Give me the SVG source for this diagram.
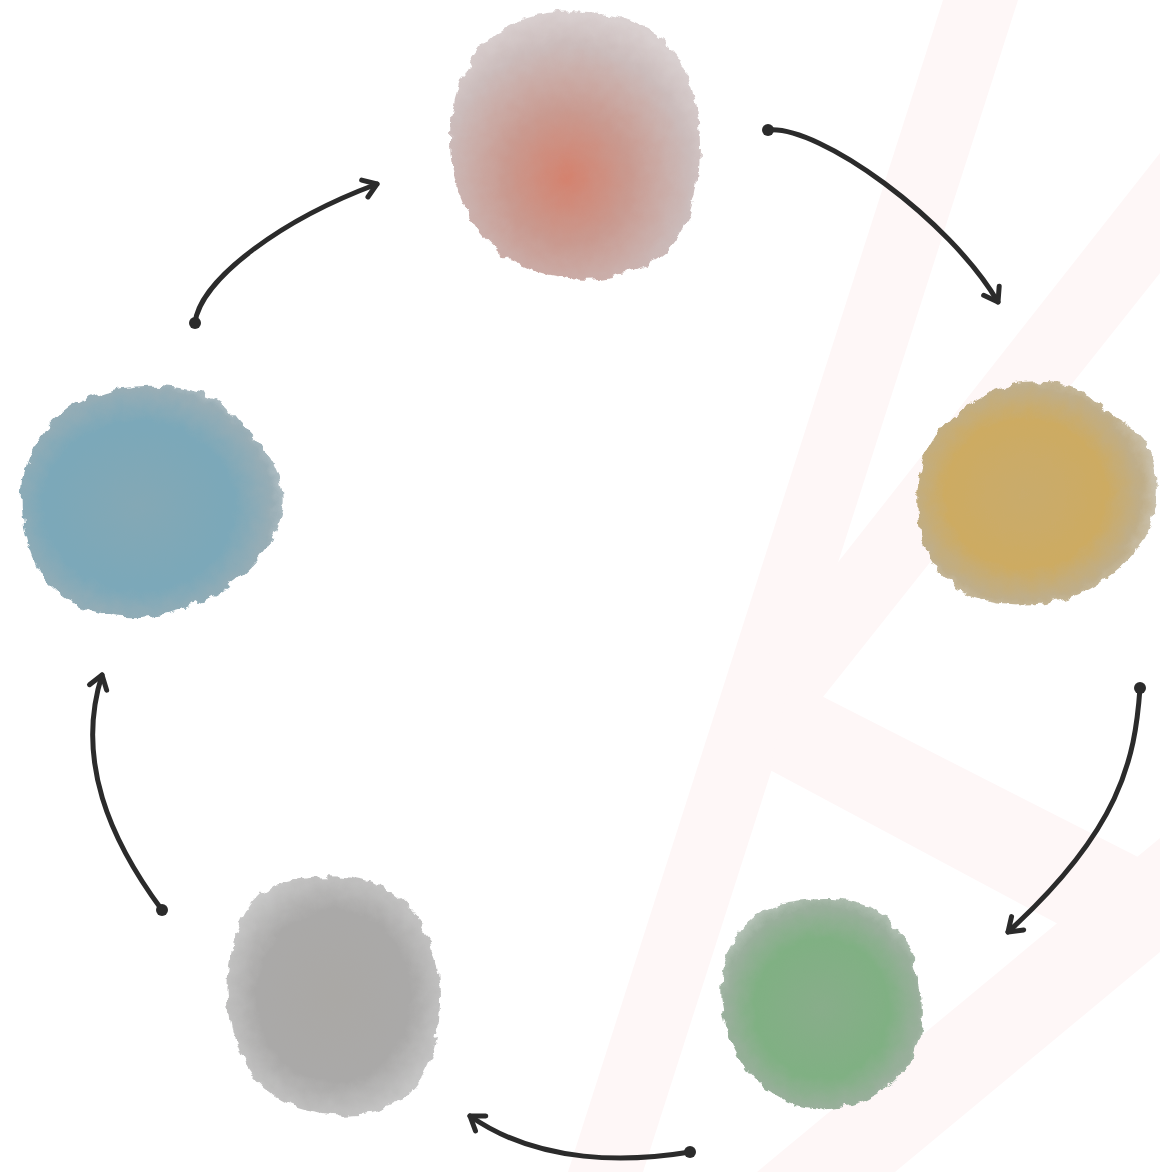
<svg xmlns="http://www.w3.org/2000/svg" width="1160" height="1172" viewBox="0 0 1160 1172">
<style>
.band{fill:#fef7f7;stroke:none}
.blob{filter:url(#rough)}
.conn{fill:none;stroke:#2b2b2b;stroke-width:5;stroke-linecap:round;stroke-linejoin:round;marker-end:url(#arrow)}
.dot{fill:#2b2b2b}
</style>
<defs>
<filter id="rough" x="-10%" y="-10%" width="120%" height="120%">
<feTurbulence type="fractalNoise" baseFrequency="0.08" numOctaves="3" seed="4" result="n"/>
<feDisplacementMap in="SourceGraphic" in2="n" scale="10" xChannelSelector="R" yChannelSelector="G"/>
</filter>
<marker id="arrow" viewBox="-18 -14 22 28" markerWidth="22" markerHeight="28" refX="0" refY="0" orient="auto" markerUnits="userSpaceOnUse">
<path d="M-13,-9 L0,0 L-13,9" fill="none" stroke="#2b2b2b" stroke-width="5" stroke-linecap="round" stroke-linejoin="round"/>
</marker>
<radialGradient id="gRed" cx="0.47" cy="0.62" r="0.62">
<stop offset="0" stop-color="#d4826e"/>
<stop offset="0.4" stop-color="#c99a90"/>
<stop offset="0.8" stop-color="#cbbcbb"/>
<stop offset="1" stop-color="#d9d0d0"/>
</radialGradient>
<radialGradient id="gYel" cx="0.45" cy="0.5" r="0.6">
<stop offset="0" stop-color="#c9ab6c"/>
<stop offset="0.55" stop-color="#cdab62"/>
<stop offset="0.8" stop-color="#bfae8a"/>
<stop offset="1" stop-color="#d3d0c8"/>
</radialGradient>
<radialGradient id="gGrn" cx="0.5" cy="0.52" r="0.6">
<stop offset="0" stop-color="#88ad8a"/>
<stop offset="0.55" stop-color="#80b083"/>
<stop offset="0.8" stop-color="#9aaf9c"/>
<stop offset="1" stop-color="#c9cfca"/>
</radialGradient>
<radialGradient id="gGry" cx="0.5" cy="0.5" r="0.6">
<stop offset="0" stop-color="#aaa8a5"/>
<stop offset="0.6" stop-color="#aaa9a8"/>
<stop offset="1" stop-color="#d0d0d0"/>
</radialGradient>
<radialGradient id="gBlu" cx="0.45" cy="0.52" r="0.6">
<stop offset="0" stop-color="#84a8b5"/>
<stop offset="0.6" stop-color="#7ba8b9"/>
<stop offset="0.85" stop-color="#98adb5"/>
<stop offset="1" stop-color="#c6cdd0"/>
</radialGradient>
</defs>
<rect width="1160" height="1172" fill="#ffffff"/>
<g id="background">
<polygon class="band" points="943,0 1018,0 643,1172 568,1172"/>
<polygon class="band" points="1160,153 1160,273 823,697 780,700 769,650"/>
<polygon class="band" points="790,680 1140,858 1060,925 770,770"/>
<polygon class="band" points="1160,838 1160,952 895,1172 757,1172"/>
</g>
<g id="node-red">
<path class="blob" fill="url(#gRed)" d="M600,13 Q655,20 677.5,56 Q700,90 700,145 Q700,200 682.5,231 Q665,262 622.5,273.5 Q580,285 537.5,271.5 Q495,258 472.5,221.5 Q450,185 450,140 Q450,95 470,62 Q490,30 525,18 Q555,8 600,13 Z"/>
</g>
<g id="node-yellow">
<path class="blob" fill="url(#gYel)" d="M1040,382.5 Q1080,385 1095,400 Q1110,415 1130,427.5 Q1150,440 1156,470 Q1162,500 1148.5,530 Q1135,560 1097.5,584 Q1060,608 1010,604 Q960,600 937.5,570 Q915,540 917.5,490 Q920,440 960,410 Q1000,380 1040,382.5 Z"/>
</g>
<g id="node-green">
<path class="blob" fill="url(#gGrn)" d="M830,899 Q870,900 892.5,922.5 Q915,945 921.5,992.5 Q928,1040 904,1070 Q880,1100 840,1107.5 Q800,1115 770,1092.5 Q740,1070 727.5,1030 Q715,990 727.5,955 Q740,920 765,909 Q790,898 830,899 Z"/>
</g>
<g id="node-gray">
<path class="blob" fill="url(#gGry)" d="M340,877.5 Q390,880 415,915 Q440,950 440,1000 Q440,1050 420,1080 Q400,1110 360,1114 Q320,1118 285,1101.5 Q250,1085 236,1042.5 Q222,1000 231,952.5 Q240,905 265,890 Q290,875 340,877.5 Z"/>
</g>
<g id="node-blue">
<path class="blob" fill="url(#gBlu)" d="M172.5,387 Q215,392 230,411 Q245,430 262.5,447.5 Q280,465 282.5,497.5 Q285,530 252.5,565 Q220,600 170,612.5 Q120,625 77.5,605 Q35,585 25,532.5 Q15,480 35,445 Q55,410 92.5,396 Q130,382 172.5,387 Z"/>
</g>
<g id="connectors">
<path class="conn" d="M768,130 C820,125 950,220 998,302"/>
<circle class="dot" cx="768" cy="130" r="6"/>
<path class="conn" d="M1140,688 C1135,760 1120,830 1008,932"/>
<circle class="dot" cx="1140" cy="688" r="6"/>
<path class="conn" d="M690,1152 C630,1162 540,1165 470,1116"/>
<circle class="dot" cx="690" cy="1152" r="6"/>
<path class="conn" d="M162,910 C110,840 75,760 102,675"/>
<circle class="dot" cx="162" cy="910" r="6"/>
<path class="conn" d="M195,323 C200,280 280,220 377,184"/>
<circle class="dot" cx="195" cy="323" r="6"/>
</g>
</svg>
